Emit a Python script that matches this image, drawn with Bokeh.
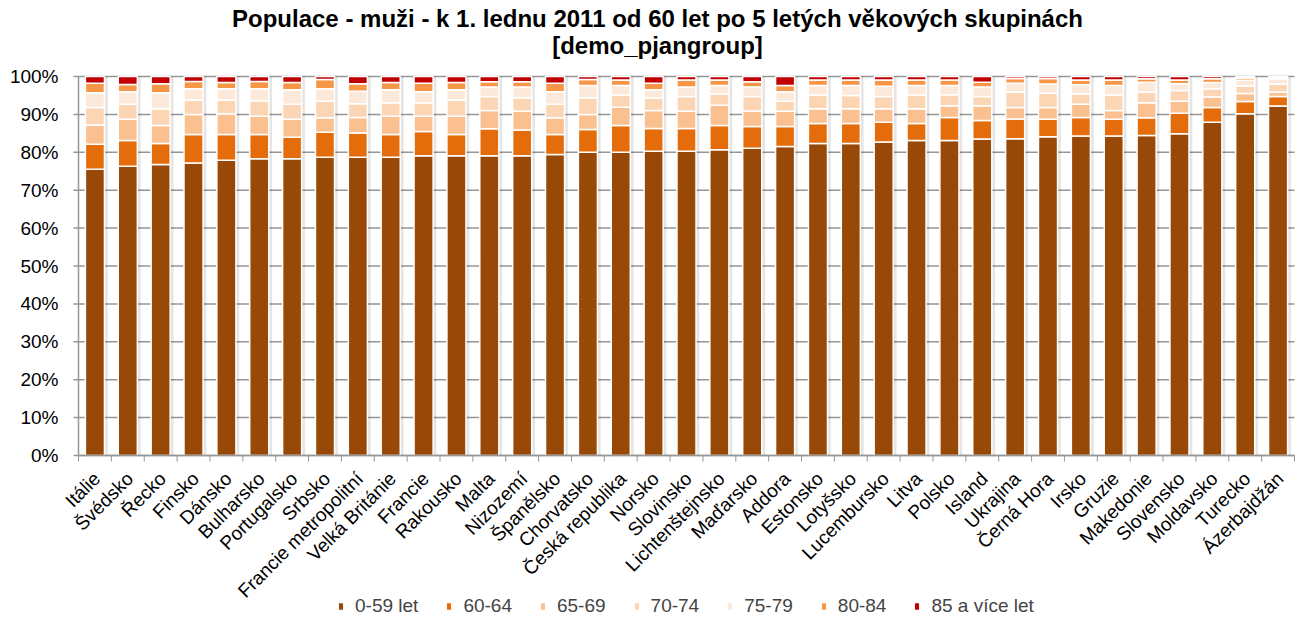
import math
from bokeh.plotting import figure
from bokeh.models import Range1d, Legend, LegendItem, ColumnDataSource
from bokeh.core.properties import value
from bokeh.embed import file_html
from bokeh.resources import INLINE

countries = ["Itálie", "Švédsko", "Řecko", "Finsko", "Dánsko", "Bulharsko",
             "Portugalsko", "Srbsko", "Francie metropolitní", "Velká Británie",
             "Francie", "Rakousko", "Malta", "Nizozemí", "Španělsko", "Chorvatsko",
             "Česká republika", "Norsko", "Slovinsko", "Lichtenštejnsko", "Maďarsko",
             "Addora", "Estonsko", "Lotyšsko", "Lucembursko", "Litva", "Polsko",
             "Island", "Ukrajina", "Černá Hora", "Irsko", "Gruzie", "Makedonie",
             "Slovensko", "Moldavsko", "Turecko", "Ázerbajdžán"]

age_groups = ["0-59 let", "60-64", "65-69", "70-74", "75-79", "80-84", "85 a více let"]

v_0_59 = [75.5, 76.3, 76.8, 77.2, 77.9, 78.3, 78.3, 78.7, 78.7, 78.7, 79.1, 79.1, 79.1,
          79.1, 79.4, 80.0, 80.0, 80.3, 80.3, 80.7, 81.1, 81.5, 82.3, 82.3, 82.7, 83.1,
          83.1, 83.5, 83.6, 84.1, 84.3, 84.3, 84.4, 84.9, 87.9, 90.2, 92.2]
v_60_64 = [6.6, 6.8, 5.5, 7.5, 6.8, 6.4, 5.7, 6.6, 6.4, 6.0, 6.4, 5.6, 7.1,
           6.8, 5.3, 6.0, 7.1, 6.0, 6.0, 6.4, 5.7, 5.3, 5.3, 5.3, 5.2, 4.5,
           6.1, 4.9, 5.2, 4.6, 4.9, 4.4, 4.7, 5.4, 3.9, 3.2, 2.5]
v_65_69 = [5.1, 5.6, 4.8, 5.3, 5.5, 4.8, 4.7, 3.8, 4.1, 4.8, 4.0, 4.8, 4.8,
           4.9, 4.4, 4.0, 4.8, 4.7, 4.5, 5.3, 4.1, 4.0, 3.9, 3.9, 3.6, 3.9,
           3.1, 3.9, 3.0, 3.1, 3.5, 2.3, 4.0, 3.2, 2.8, 2.1, 1.2]
v_70_74 = [4.6, 4.0, 4.4, 3.8, 3.6, 4.1, 4.0, 4.4, 3.6, 3.6, 3.6, 4.3, 3.7,
           3.6, 3.6, 4.4, 3.2, 3.3, 3.9, 3.0, 3.8, 2.7, 3.6, 3.5, 3.2, 3.6,
           2.9, 2.4, 4.1, 3.8, 2.7, 4.1, 2.8, 2.8, 2.2, 2.0, 2.1]
v_75_79 = [3.9, 3.3, 4.2, 3.0, 3.0, 3.2, 3.8, 3.3, 3.3, 3.4, 2.9, 2.7, 2.5,
           2.8, 3.3, 3.2, 2.5, 2.2, 2.5, 2.2, 2.5, 2.5, 2.5, 2.6, 2.7, 2.5,
           2.4, 2.5, 2.3, 2.4, 2.4, 2.5, 2.6, 1.8, 1.6, 1.5, 1.4]
v_80_84 = [2.5, 1.9, 2.4, 1.9, 1.6, 1.9, 1.9, 2.4, 2.0, 1.9, 2.2, 1.9, 1.4,
           1.4, 2.2, 1.6, 1.5, 1.7, 1.9, 1.5, 1.4, 1.6, 1.5, 1.5, 1.7, 1.5,
           1.5, 1.3, 1.3, 1.5, 1.3, 1.5, 0.9, 1.0, 1.0, 0.6, 0.3]
v_85_plus = [1.8, 2.1, 1.9, 1.3, 1.6, 1.3, 1.6, 0.8, 1.9, 1.6, 1.8, 1.6, 1.4,
             1.4, 1.8, 0.8, 0.9, 1.8, 0.9, 0.9, 1.4, 2.4, 0.9, 0.9, 0.9, 0.9,
             0.9, 1.5, 0.5, 0.5, 0.9, 0.9, 0.6, 0.9, 0.6, 0.4, 0.3]

title_lines = ["Populace - muži - k 1. lednu 2011 od 60 let po 5 letých věkových skupinách",
               "[demo_pjangroup]"]

colors = ["#984807", "#E46C0A", "#FAC090", "#FCD5B5", "#FDE9D9", "#F79646", "#C00000"]
y_ticks = [0, 10, 20, 30, 40, 50, 60, 70, 80, 90, 100]
y_tick_labels = ["0%", "10%", "20%", "30%", "40%", "50%", "60%", "70%", "80%", "90%", "100%"]

FONT = "Liberation Sans"
GRAY = "#969696"

# ---- layout in pixels (the frame covers the whole canvas) ----
W, H = 1295, 618
LEFT, RIGHT = 78, 1294          # plot area left / right edge
TOP, ZERO = 76, 455             # pixel rows of 100 % and 0 %
PX_PER_UNIT = (ZERO - TOP) / 100.0
CAT_PX = (RIGHT - LEFT) / len(countries)
Y_MAX = 100 + TOP / PX_PER_UNIT
Y_MIN = -(H - ZERO) / PX_PER_UNIT
X_START = -0.5 - LEFT / CAT_PX
X_END = X_START + W / CAT_PX
TICK_X = 5 / CAT_PX
TICK_Y = 6 / PX_PER_UNIT
TITLE_CX = X_START + 657 / CAT_PX

keys = ["g0", "g1", "g2", "g3", "g4", "g5", "g6"]
xs = list(range(len(countries)))
n = len(xs)
src = ColumnDataSource(dict(x=xs, xs=[x + 0.1 for x in xs],
                            total=[a + b + c + d + e + f + g for a, b, c, d, e, f, g in
                                   zip(v_0_59, v_60_64, v_65_69, v_70_74, v_75_79, v_80_84, v_85_plus)],
                            g0=v_0_59, g1=v_60_64, g2=v_65_69, g3=v_70_74,
                            g4=v_75_79, g5=v_80_84, g6=v_85_plus))

p = figure(width=W, height=H, output_backend="svg", toolbar_location=None,
           title=None, x_axis_location=None, y_axis_location=None,
           x_range=Range1d(X_START, X_END), y_range=Range1d(Y_MIN, Y_MAX),
           min_border=0)
p.outline_line_color = None
p.grid.visible = False

# title
p.text(x=[TITLE_CX, TITLE_CX], y=[100, 100], text=title_lines, y_offset=[18 - TOP, 45 - TOP],
       text_align="center", text_baseline="middle", text_font=value(FONT),
       text_font_size="24px", text_font_style="bold", text_color="black")

# horizontal grid lines
p.segment(x0=[-0.5] * len(y_ticks), y0=y_ticks, x1=[n - 0.5] * len(y_ticks), y1=y_ticks,
          line_color=GRAY, line_width=1.5)

# value axis: line, ticks, labels
p.segment(x0=-0.5, y0=0, x1=-0.5, y1=100, line_color=GRAY, line_width=1.5)
p.segment(x0=[-0.5 - TICK_X] * len(y_ticks), y0=y_ticks, x1=[-0.5] * len(y_ticks), y1=y_ticks,
          line_color=GRAY, line_width=1.5)
p.text(x=[-0.5] * len(y_ticks), y=y_ticks, text=y_tick_labels, x_offset=-20,
       text_align="right", text_baseline="middle", text_font=value(FONT),
       text_font_size="19px", text_color="black")

# soft shadow behind the bars
p.vbar(x="xs", top="total", width=0.58, source=src, fill_color="#000000",
       fill_alpha=0.10, line_color=None)

rs = p.vbar_stack(keys, x="x", width=0.58, color=colors, source=src,
                  line_color="white", line_width=1.5)

# category axis: base line, boundary ticks, rotated names
bounds = [x - 0.5 for x in xs] + [n - 0.5]
p.segment(x0=-0.5, y0=0, x1=n - 0.5, y1=0, line_color=GRAY, line_width=1.5)
p.segment(x0=bounds, y0=[0] * len(bounds), x1=bounds, y1=[-TICK_Y] * len(bounds),
          line_color=GRAY, line_width=1)
p.text(x=xs, y=[0] * n, text=countries, angle=math.pi / 4,
       x_offset=2, y_offset=20, text_align="right", text_baseline="middle",
       text_font=value(FONT), text_font_size="19px", text_color="black")

legend = Legend(items=[LegendItem(label=g, renderers=[r]) for g, r in zip(age_groups, rs)],
                orientation="horizontal", location=(337, 1),
                label_text_font=FONT, label_text_font_size="19px",
                glyph_width=7, glyph_height=10, label_standoff=11, spacing=27,
                border_line_color=None, background_fill_alpha=0, padding=0, margin=0)
p.add_layout(legend, "center")

open("out.html", "w").write(file_html(p, INLINE))
